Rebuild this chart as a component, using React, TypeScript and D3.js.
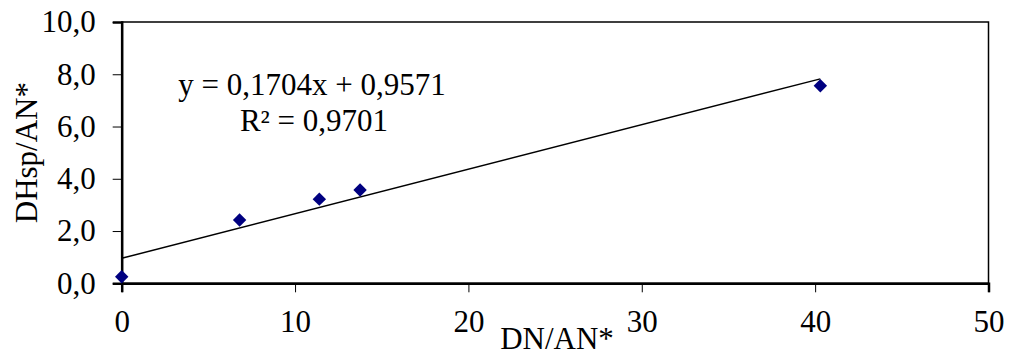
import React, { useEffect, useRef } from 'react'
import * as d3 from 'd3'

const xValues = [0, 6.8, 11.4, 13.75, 40.3]
const yValues = [0.25, 2.42, 3.22, 3.57, 7.56]
const xTicks = [0, 10, 20, 30, 40, 50]
const yTicks = [0, 2, 4, 6, 8, 10]
const slope = 0.1704
const intercept = 0.9571
const equationText = 'y = 0,1704x + 0,9571'
const r2Text = 'R² = 0,9701'
const xTitle = 'DN/AN*'
const yTitle = 'DHsp/AN*'

export default function App() {
    const svgRef = useRef<SVGSVGElement>(null)
    const width = 1015
    const height = 356

    useEffect(() => {
        if (!svgRef.current) return
        const svg = d3.select(svgRef.current)
        svg.selectAll("*").remove()

        const left = 121.7, right = 988.5, top = 22, bottom = 283.3
        const font = "'Liberation Serif', 'Times New Roman', serif"
        const fs = 31

        const x = d3.scaleLinear().domain([0, 50]).range([left, right])
        const y = d3.scaleLinear().domain([0, 10]).range([bottom, top])
        const fmt = (v: number) => d3.format(".1f")(v).replace(".", ",")

        // plot frame
        svg.append("rect")
            .attr("x", left).attr("y", top)
            .attr("width", right - left).attr("height", bottom - top)
            .attr("fill", "none").attr("stroke", "#000").attr("stroke-width", 1.5)

        // X axis
        const xAxis = svg.append("g")
            .attr("transform", `translate(0,${bottom})`)
            .call(d3.axisBottom(x).tickValues(xTicks).tickSize(9).tickPadding(18).tickFormat(d => String(d)))
        xAxis.select(".domain").attr("stroke-width", 2.5)
        xAxis.selectAll("line").attr("stroke-width", 1)
        xAxis.selectAll("text").attr("font-family", font).attr("font-size", fs).attr("fill", "#000")

        // Y axis
        const yAxis = svg.append("g")
            .attr("transform", `translate(${left},0)`)
            .call(d3.axisLeft(y).tickValues(yTicks).tickSize(9).tickPadding(17).tickFormat(d => fmt(d as number)))
        yAxis.select(".domain").attr("stroke-width", 2.5)
        yAxis.selectAll("line").attr("stroke-width", 1)
        yAxis.selectAll("text").attr("font-family", font).attr("font-size", fs).attr("fill", "#000")

        // trendline
        const xMax = d3.max(xValues) as number
        svg.append("line")
            .attr("x1", x(0)).attr("y1", y(intercept))
            .attr("x2", x(xMax)).attr("y2", y(slope * xMax + intercept))
            .attr("stroke", "#000").attr("stroke-width", 1.5)

        // points
        const diamond = d3.symbol().type(d3.symbolSquare).size(90)
        svg.selectAll(".pt")
            .data(xValues.map((v, i) => ({ x: v, y: yValues[i] })))
            .enter().append("path")
            .attr("class", "pt")
            .attr("d", diamond)
            .attr("transform", d => `translate(${x(d.x)},${y(d.y)}) rotate(45)`)
            .attr("fill", "#000080")

        // equation
        svg.append("text")
            .attr("x", 312).attr("y", 95)
            .attr("text-anchor", "middle")
            .attr("font-family", font).attr("font-size", fs)
            .text(equationText)
        svg.append("text")
            .attr("x", 314).attr("y", 131)
            .attr("text-anchor", "middle")
            .attr("font-family", font).attr("font-size", fs)
            .text(r2Text)

        // axis titles
        svg.append("text")
            .attr("x", 557).attr("y", 349)
            .attr("text-anchor", "middle")
            .attr("font-family", font).attr("font-size", fs)
            .text(xTitle)
        svg.append("text")
            .attr("transform", `translate(37,${(top + bottom) / 2}) rotate(-90)`)
            .attr("text-anchor", "middle")
            .attr("font-family", font).attr("font-size", fs)
            .text(yTitle)
    }, [])

    return (
        <svg ref={svgRef} width={width} height={height}
            style={{ position: 'absolute', left: 0, top: 0, background: '#fff' }} />
    )
}
